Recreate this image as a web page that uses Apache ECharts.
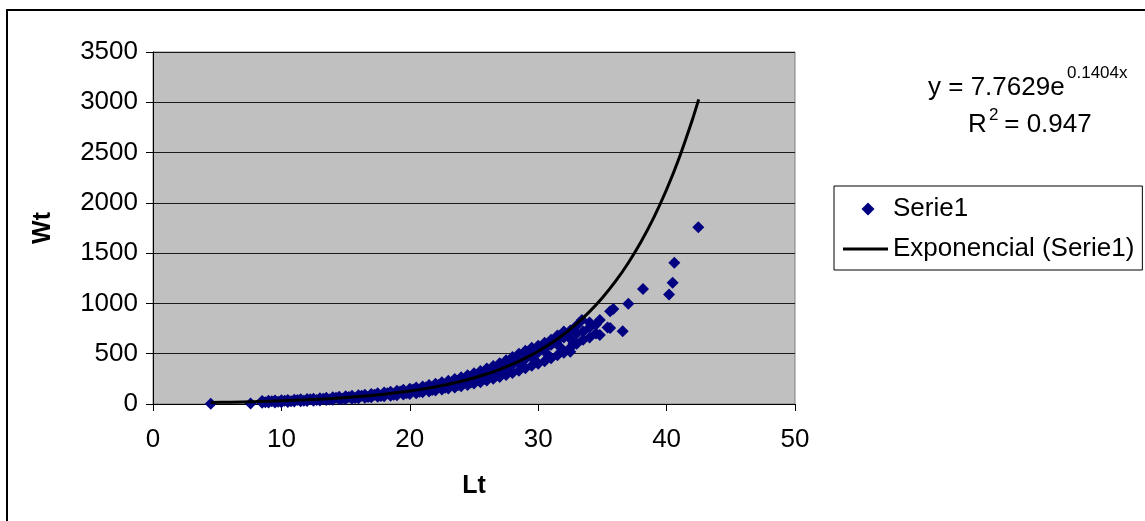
<!DOCTYPE html>
<html>
<head>
<meta charset="utf-8">
<script src="https://cdn.jsdelivr.net/npm/echarts@6/dist/echarts.min.js"></script>
<style>
html,body{margin:0;padding:0;background:#fff;}
#chart{width:1145px;height:521px;}
</style>
</head>
<body>
<div id="chart"></div>
<script>
const lt = [4.5,7.6,
8.5,8.5,8.5, 9.0,9.0,9.0, 9.5,9.5,9.5, 10.0,10.0,10.0, 10.5,10.5,10.5, 11.0,11.0,11.0,
11.5,11.5,11.5, 12.0,12.0,12.0, 12.5,12.5,12.5, 13.0,13.0,13.0, 13.5,13.5,13.5, 14.0,14.0,14.0,
14.5,14.5,14.5, 15.0,15.0,15.0, 15.5,15.5,15.5, 16.0,16.0,16.0, 16.5,16.5,16.5, 17.0,17.0,17.0,
17.5,17.5,17.5, 18.0,18.0,18.0, 18.5,18.5,18.5, 19.0,19.0,19.0, 19.5,19.5,19.5, 20.0,20.0,20.0,
20.5,20.5,20.5, 21.0,21.0,21.0, 21.5,21.5,21.5, 22.0,22.0,22.0, 22.5,22.5,22.5, 23.0,23.0,23.0,
23.5,23.5,23.5, 24.0,24.0,24.0, 24.5,24.5,24.5, 25.0,25.0,25.0, 25.5,25.5,25.5, 26.0,26.0,26.0,
26.5,26.5,26.5, 27.0,27.0,27.0, 27.5,27.5,27.5, 28.0,28.0,28.0, 28.5,28.5,28.5, 29.0,29.0,29.0,
29.5,29.5,29.5, 30.0,30.0,30.0, 30.5,30.5,30.5, 31.0,31.0,31.0, 31.5,31.5,31.5, 32.0,32.0,32.0,
32.5,32.5,32.5,32.5, 33.0,33.0,33.0, 33.4, 33.5,33.5, 34.0,34.0,34.0, 34.5,34.5, 34.8,34.8,
35.4, 35.6,35.6, 35.85, 36.58, 37.02, 38.16, 40.19, 40.47, 40.6, 42.47,
8.75,9.25,9.75,10.25,10.75,11.25,11.75,12.25,12.75,13.25,13.75,14.25,14.75,15.25,15.75,16.25,
16.75,17.25,17.75,18.25,18.75,19.25,19.75,20.25,20.75,21.25,21.75,22.25,22.75,23.25,23.75,24.25,
24.75,25.25,25.75,26.25,26.75,27.25,27.75,28.25,28.75,29.25,29.75,30.25,30.75,31.25,31.75,32.25,32.75];
const wt = [3,5,
12,22,30, 14,24,32, 15,27,35, 18,30,37, 20,32,40, 24,35,43,
27,38,46, 30,41,50, 33,44,53, 36,47,57, 39,50,61, 42,54,66,
46,58,71, 50,62,76, 53,66,81, 57,72,87, 61,77,93, 66,83,100,
71,88,107, 76,95,115, 81,102,123, 87,110,132, 94,118,142, 100,126,152,
108,135,163, 116,145,175, 124,156,188, 133,168,201, 143,180,216, 153,193,231,
164,207,248, 176,222,266, 189,238,286, 203,256,306, 217,274,329, 233,294,353,
250,316,378, 268,338,406, 288,362,435, 309,390,467, 331,418,500, 355,448,530,
381,480,560, 400,515,580, 425,550,610, 455,590,640, 485,630,680, 510,660,720,
520,560,650,730, 600,700,780, 835, 640,720, 660,760,810, 700,790, 835,686,
760, 922,756, 945, 723, 997, 1143, 1090, 1206, 1405, 1757,
18,28,22,33,27,40,33,46,39,53,45,61,52,70,60,81,
69,93,80,108,92,124,106,143,122,163,140,188,162,216,186,248,
213,284,245,328,283,375,326,430,376,490,430,560,490,615,560,690,600];

// Exponential trend line as drawn (y = 7.7629e^0.1404x), read at these x positions
const trendLt = [4.5,6,8,10,12,14,16,18,20,22,24,26,27,28,29,30,31,32,33,34,35,36,37,38,39,40,41,42,42.5];
const trendWt = [14.6,18.0,23.9,31.6,41.9,55.4,73.4,97.2,128.7,170.4,225.7,298.8,343.9,395.7,455.3,524.0,602.9,693.8,798.4,918.7,1057,1216,1400,1611,1853,2133,2454,2824,3029];

const xTicks = {min:0, max:50, interval:10};
const yTicks = {min:0, max:3500, interval:500};

const FONT = '"Liberation Sans", Arial, sans-serif';

const scatterData = lt.map((x,i)=>[x, wt[i]]);
const trendData = trendLt.map((x,i)=>[x, trendWt[i]]);

const chart = echarts.init(document.getElementById('chart'), null, {renderer:'canvas'});
chart.setOption({
  animation:false,
  backgroundColor:'#fff',
  textStyle:{fontFamily:FONT, color:'#000'},
  grid:{left:153, top:52, width:642, height:352, show:true, backgroundColor:'#C0C0C0', borderColor:'#808080', borderWidth:1},
  xAxis:{
    type:'value', min:xTicks.min, max:xTicks.max, interval:xTicks.interval,
    name:'Lt', nameLocation:'middle', nameGap:70,
    nameTextStyle:{fontSize:25, fontWeight:'bold', fontFamily:FONT, color:'#000'},
    axisLine:{show:true, onZero:false, lineStyle:{color:'#000', width:1}},
    axisTick:{show:true, inside:false, length:7, lineStyle:{color:'#000'}},
    axisLabel:{fontSize:26, color:'#000', fontFamily:FONT, margin:23, formatter:v=>String(v)},
    splitLine:{show:false}
  },
  yAxis:{
    type:'value', min:yTicks.min, max:yTicks.max, interval:yTicks.interval,
    name:'Wt', nameLocation:'middle', nameGap:97, nameRotate:90,
    nameTextStyle:{fontSize:25, fontWeight:'bold', fontFamily:FONT, color:'#000'},
    axisLine:{show:true, onZero:false, lineStyle:{color:'#000', width:1}},
    axisTick:{show:true, inside:false, length:7, lineStyle:{color:'#000'}},
    axisLabel:{fontSize:26, color:'#000', fontFamily:FONT, margin:15, formatter:v=>String(v)},
    splitLine:{show:true, lineStyle:{color:'#1a1a1a', width:1}}
  },
  legend:{
    orient:'vertical', left:834, top:186,
    itemWidth:45, itemHeight:13, itemGap:14,
    padding:[10,8,8,9],
    symbolKeepAspect:true,
    borderColor:'#000', borderWidth:1, backgroundColor:'#fff',
    textStyle:{fontSize:26, fontFamily:FONT, color:'#000'},
    data:[
      {name:'Serie1', icon:'path://M0,0L0.01,0L0.01,0.01ZM45,13L44.99,13L44.99,12.99ZM25,0L31.5,6.5L25,13L18.5,6.5Z', itemStyle:{color:'#000080', opacity:1, borderWidth:0}},
      {name:'Exponencial (Serie1)', icon:'path://M0,0L45,0L45,3L0,3Z', itemStyle:{color:'#000', opacity:1, borderWidth:0}}
    ]
  },
  series:[
    {
      name:'Serie1', type:'scatter', symbol:'diamond', symbolSize:12,
      itemStyle:{color:'#000080', opacity:1},
      data:scatterData, z:2
    },
    {
      name:'Exponencial (Serie1)', type:'line', symbol:'none', showSymbol:false, smooth:0.3,
      lineStyle:{color:'#000', width:3},
      itemStyle:{color:'#000'},
      data:trendData, z:3
    }
  ],
  graphic:[
    {type:'rect', shape:{x:7, y:10, width:1200, height:600}, style:{fill:'none', stroke:'#000', lineWidth:2}, silent:true},
    {type:'text', left:928, top:75, style:{text:'y = 7.7629e', font:'26px ' + FONT, fill:'#000'}},
    {type:'text', left:1067, top:65, style:{text:'0.1404x', font:'17px ' + FONT, fill:'#000'}},
    {type:'text', left:968, top:112, style:{text:'R', font:'26px ' + FONT, fill:'#000'}},
    {type:'text', left:989, top:107, style:{text:'2', font:'17px ' + FONT, fill:'#000'}},
    {type:'text', left:997, top:112, style:{text:' = 0.947', font:'26px ' + FONT, fill:'#000'}}
  ]
});
</script>
</body>
</html>
